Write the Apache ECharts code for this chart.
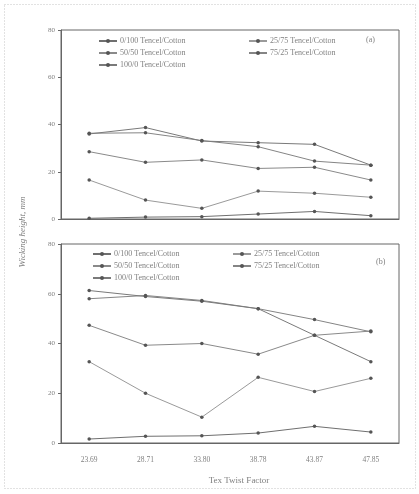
<!DOCTYPE html>
<html>
<head>
<meta charset="utf-8">
<script src="https://cdn.jsdelivr.net/npm/echarts@6/dist/echarts.min.js"></script>
<style>html,body{margin:0;padding:0;background:#fff;}#c{width:419px;height:494px;}</style>
</head>
<body>
<div id="c"></div>
<script>
var categories = ["23.69", "28.71", "33.80", "38.78", "43.87", "47.85"];
var seriesNames = ["0/100 Tencel/Cotton", "25/75 Tencel/Cotton", "50/50 Tencel/Cotton", "75/25 Tencel/Cotton", "100/0 Tencel/Cotton"];
// panel (a)
var a_0_100 = [0.3, 0.8, 1.0, 2.1, 3.2, 1.4];
var a_25_75 = [16.5, 8.0, 4.5, 11.8, 10.9, 9.2];
var a_50_50 = [28.5, 24.0, 25.0, 21.4, 21.9, 16.5];
var a_75_25 = [36.3, 36.5, 33.2, 30.6, 24.5, 22.8];
var a_100_0 = [36.0, 38.7, 33.0, 32.3, 31.6, 22.8];
// panel (b)
var b_0_100 = [1.6, 2.7, 2.9, 4.0, 6.7, 4.4];
var b_25_75 = [32.7, 20.0, 10.4, 26.4, 20.7, 26.0];
var b_50_50 = [47.3, 39.3, 40.0, 35.7, 43.3, 45.0];
var b_75_25 = [58.0, 59.3, 57.3, 54.0, 49.6, 44.7];
var b_100_0 = [61.3, 58.9, 57.0, 54.0, 43.3, 32.7];
var yTicks = [0, 20, 40, 60, 80];

var colors = ["#6f6f6f", "#9a9a9a", "#8a8a8a", "#858585", "#7a7a7a"];
var aData = [a_0_100, a_25_75, a_50_50, a_75_25, a_100_0];
var bData = [b_0_100, b_25_75, b_50_50, b_75_25, b_100_0];

var serif = "Liberation Serif";
var txt = "#808080";

function mkSeries(data, idx, panel) {
  return {
    name: seriesNames[idx], type: "line", xAxisIndex: panel, yAxisIndex: panel,
    data: data, symbol: "circle", symbolSize: 3.5, showSymbol: true,
    lineStyle: {width: 1, color: colors[idx]},
    itemStyle: {color: "#555"},
    animation: false
  };
}
var series = [];
for (var i = 0; i < 5; i++) series.push(mkSeries(aData[i], i, 0));
for (var j = 0; j < 5; j++) series.push(mkSeries(bData[j], j, 1));

function mkLegend(names, left, top) {
  return {
    data: names, orient: "vertical", left: left, top: top,
    itemWidth: 18, itemHeight: 5, itemGap: 4, padding: 0,
    textStyle: {fontFamily: serif, fontSize: 8, color: txt, padding: [0,0,0,-2]},
    selectedMode: false
  };
}
function yAx(idx) {
  return {
    type: "value", gridIndex: idx, min: 0, max: 80, interval: 20,
    axisLine: {show: true, lineStyle: {color: "#666"}},
    axisTick: {show: true, length: 3, lineStyle: {color: "#666"}},
    splitLine: {show: false},
    axisLabel: {fontFamily: serif, fontSize: 7, color: txt, margin: 6}
  };
}
var option = {
  backgroundColor: "#fff",
  animation: false,
  color: colors,
  grid: [
    {left: 61, right: 20, top: 30, height: 189, show: true, borderColor: "#666", borderWidth: 1},
    {left: 61, right: 20, top: 244, height: 199, show: true, borderColor: "#666", borderWidth: 1}
  ],
  xAxis: [
    {type: "category", gridIndex: 0, data: categories, boundaryGap: true,
     axisLine: {lineStyle: {color: "#666"}}, axisTick: {show: false}, axisLabel: {show: false}},
    {type: "category", gridIndex: 1, data: categories, boundaryGap: true,
     axisLine: {lineStyle: {color: "#666"}}, axisTick: {show: false},
     axisLabel: {fontFamily: serif, fontSize: 7.5, color: txt, margin: 13},
     name: "Tex Twist Factor", nameLocation: "middle", nameGap: 33,
     nameTextStyle: {fontFamily: serif, fontSize: 9, color: txt, padding: [0,0,0,18]}}
  ],
  yAxis: [yAx(0), yAx(1)],
  legend: [
    mkLegend([seriesNames[0], seriesNames[2], seriesNames[4]], 98, 37),
    mkLegend([seriesNames[1], seriesNames[3]], 248, 37),
    mkLegend([seriesNames[0], seriesNames[2], seriesNames[4]], 92, 250),
    mkLegend([seriesNames[1], seriesNames[3]], 232, 250)
  ],
  graphic: [
    {type: "rect", shape: {x: 4.5, y: 4.5, width: 411, height: 484}, silent: true,
     style: {fill: null, stroke: "#c4c4c4", lineWidth: 1, lineDash: [1, 2]}},
    {type: "text", x: 366, y: 36, style: {text: "(a)", font: "8px 'Liberation Serif'", fill: txt}},
    {type: "text", x: 376, y: 258, style: {text: "(b)", font: "8px 'Liberation Serif'", fill: txt}},
    {type: "text", x: 23, y: 232, rotation: Math.PI / 2,
     style: {text: "Wicking height, mm", font: "italic 9px 'Liberation Serif'", fill: txt, align: "center", verticalAlign: "middle"}}
  ],
  series: series
};
var chart = echarts.init(document.getElementById("c"), null, {renderer: "canvas"});
chart.setOption(option);
</script>
</body>
</html>
